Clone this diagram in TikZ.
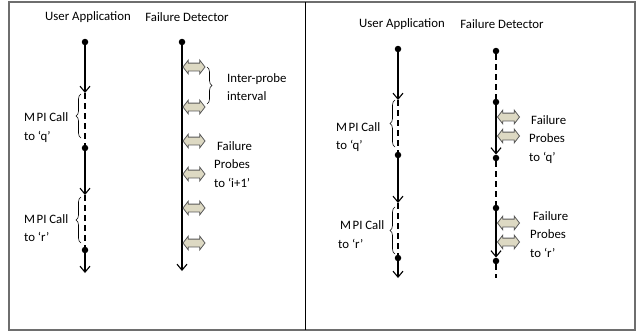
\documentclass[tikz,border=0pt]{standalone}
\usepackage{fontspec}
\setmainfont{Carlito}
\usetikzlibrary{arrows.meta,shapes.arrows,decorations.pathreplacing}
\definecolor{khaki}{RGB}{221,217,195}
\definecolor{frame}{RGB}{110,110,110}
\begin{document}
\begin{tikzpicture}[x=1pt,y=-1pt,
  every node/.style={font=\fontsize{12.8}{18.5}\selectfont},
  dot/.style={circle,fill=black,inner sep=0pt,minimum size=6.5pt},
  arr/.style={line width=1.1pt,-{Straight Barb[length=6pt,width=10pt,line width=1.1pt]}},
  dsh/.style={line width=1.1pt,dash pattern=on 6pt off 4pt},
  brc/.style={decorate,decoration={brace,amplitude=5pt},line width=0.6pt},
  darr/.style={double arrow,draw=black!65,fill=khaki,line width=0.8pt,
    inner xsep=0pt,inner ysep=3.5pt,minimum height=22pt,
    double arrow head extend=3pt,double arrow tip angle=105},
  lbl/.style={align=left,inner sep=0pt,anchor=west}]
\useasboundingbox (0,0) rectangle (637,332);
% frame
\draw[frame,line width=1.4pt] (9,2) rectangle (635,330);
\draw[line width=0.8pt] (305,2) -- (305,330);

% ---------- left panel ----------
\node (ua1) at (88,17) {User Application};
\node (fd1) at (187,17) {Failure Detector};

\node[dot] (a0) at (85,42) {};
\coordinate (a1) at (85,93);
\node[dot] (a2) at (85,148) {};
\coordinate (a3) at (85,195);
\node[dot] (a4) at (85,250) {};
\coordinate (a5) at (85,273);
\draw[arr] (a0) -- (a1);
\draw[dsh] (a1) -- (a2);
\draw[arr] (a2) -- (a3);
\draw[dsh] (a3) -- (a4);
\draw[arr] (a4) -- (a5);

\coordinate (br1a) at (81,138);
\coordinate (br1b) at (81,94);
\draw[brc] (br1a) -- (br1b);
\node[lbl] (l1) at (24,127.5) {M\kern1.5pt PI Call\\to ‘q’};
\coordinate (br2a) at (81,243);
\coordinate (br2b) at (81,197);
\draw[brc] (br2a) -- (br2b);
\node[lbl] (l2) at (24,228) {M\kern1.5pt PI Call\\to ‘r’};

\node[dot] (f0) at (182,42) {};
\coordinate (f1) at (182,271);
\draw[arr] (f0) -- (f1);
\foreach \y [count=\i] in {67,107,141,174,208,243}
  \node[darr] (p\i) at (194,\y) {};

\coordinate (br3a) at (207,67);
\coordinate (br3b) at (207,104);
\draw[brc] (br3a) -- (br3b);
\node[lbl] (l3) at (227,87) {Inter-probe\\interval};
\node[lbl] (l4) at (214,164.5) {\kern3pt Failure\\Probes\\to ‘i+1’};

% ---------- right panel ----------
\node (ua2) at (402,24) {User Application};
\node (fd2) at (502,24) {Failure Detector};

\node[dot] (b0) at (398,49) {};
\coordinate (b1) at (398,100);
\node[dot] (b2) at (398,155) {};
\coordinate (b3) at (398,203);
\node[dot] (b4) at (398,258) {};
\coordinate (b5) at (398,278);
\draw[arr] (b0) -- (b1);
\draw[dsh] (b1) -- (b2);
\draw[arr] (b2) -- (b3);
\draw[dsh] (b3) -- (b4);
\draw[arr] (b4) -- (b5);

\coordinate (br4a) at (395,147);
\coordinate (br4b) at (395,100);
\draw[brc] (br4a) -- (br4b);
\node[lbl] (l5) at (336,137) {M\kern1.5pt PI Call\\to ‘q’};
\coordinate (br5a) at (395,254);
\coordinate (br5b) at (395,207);
\draw[brc] (br5a) -- (br5b);
\node[lbl] (l6) at (338,234.5) {\kern2pt M\kern1.5pt PI Call\\to ‘r’};

\node[dot] (d0) at (496,51) {};
\node[dot] (d1) at (496,102) {};
\node[dot] (d3) at (496,158) {};
\node[dot] (d4) at (496,208) {};
\node[dot] (d6) at (496,261) {};
\coordinate (d7) at (496,278);
\draw[dsh] (d0) -- (d1);
\draw[arr] (d1) -- (d3);
\draw[dsh] (d3) -- (d4);
\draw[arr] (d4) -- (d6);
\draw[dsh] (d6) -- (d7);
\foreach \y [count=\i] in {117,136,223,242}
  \node[darr] (q\i) at (508.5,\y) {};
\node[lbl] (l7) at (529,139.5) {\kern2pt Failure\\Probes\\to ‘q’};
\node[lbl] (l8) at (530,234.5) {\kern3pt Failure\\Probes\\to ‘r’};
\end{tikzpicture}
\end{document}
